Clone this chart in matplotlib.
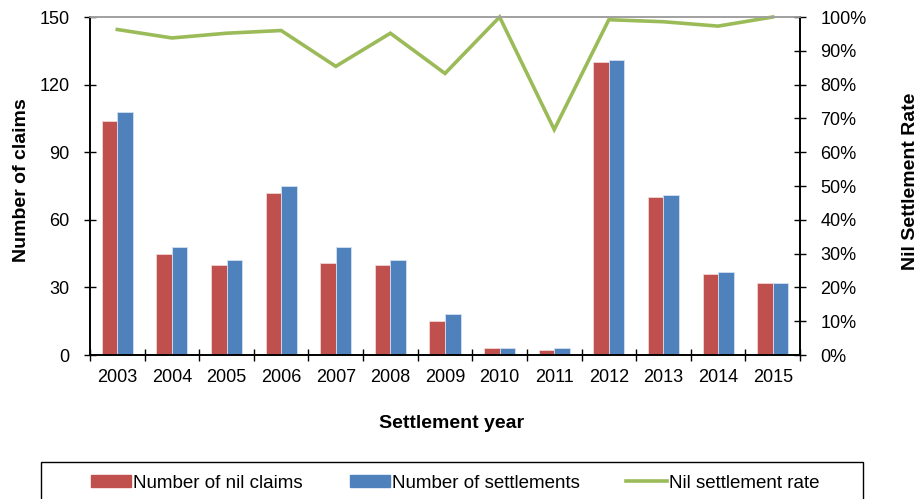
import matplotlib
matplotlib.use('Agg')
import matplotlib.pyplot as plt
import matplotlib.ticker as mticker
from matplotlib.patches import Rectangle
from matplotlib.lines import Line2D
import numpy as np

years = ['2003', '2004', '2005', '2006', '2007', '2008', '2009',
         '2010', '2011', '2012', '2013', '2014', '2015']
nil_claims = [104, 45, 40, 72, 41, 40, 15, 3, 2, 130, 70, 36, 32]
settlements = [108, 48, 42, 75, 48, 42, 18, 3, 3, 131, 71, 37, 32]
nil_rate = [96.3, 93.8, 95.2, 96.0, 85.4, 95.2, 83.3, 100.0, 66.7, 99.2, 98.6, 97.3, 100.0]

RED = '#C0504D'
BLUE = '#4F81BD'
GREEN = '#9BBB59'

plt.rcParams['font.family'] = ['Liberation Sans', 'DejaVu Sans']

fig = plt.figure(figsize=(9.22, 4.99), dpi=100)
ax = fig.add_axes([90 / 922, 1 - 355 / 499, 710 / 922, 338 / 499])
ax2 = ax.twinx()

x = np.arange(len(years))
w = 0.285
ax.bar(x - w / 2, nil_claims, w, color=RED, edgecolor='#f2d6d5', linewidth=0.6, zorder=2)
ax.bar(x + w / 2, settlements, w, color=BLUE, edgecolor='#d3e0f0', linewidth=0.6, zorder=2)
ax2.plot(x, nil_rate, color=GREEN, linewidth=2.6, solid_joinstyle='miter', clip_on=False)

ax.set_xlim(-0.5, len(years) - 0.5)
ax.set_ylim(0, 150)
ax.set_yticks(np.arange(0, 151, 30))
ax2.set_ylim(0, 100)
ax2.set_yticks(np.arange(0, 101, 10))
ax2.yaxis.set_major_formatter(mticker.FuncFormatter(lambda v, p: f'{v:.0f}%'))

ax.set_xticks(x)
ax.set_xticklabels(years)
ax.set_xticks(np.arange(-0.5, len(years), 1), minor=True)
ax.tick_params(axis='x', which='major', length=0, labelsize=13, pad=10)
ax.tick_params(axis='x', which='minor', length=9, width=1, direction='inout')
ax.tick_params(axis='y', length=9, width=1, direction='inout', labelsize=13, pad=10)
ax2.tick_params(axis='y', length=9, width=1, direction='inout', labelsize=13, pad=10)

for a in (ax, ax2):
    a.spines['top'].set_color('#a0a0a0')
    a.spines['top'].set_linewidth(1.2)
    for s in ('left', 'right', 'bottom'):
        a.spines[s].set_linewidth(1.2)

# axis titles placed where the reference has them
fig.text(22 / 922, 1 - 180 / 499, 'Number of claims', rotation=90, ha='center', va='center',
         fontsize=14, fontweight='bold')
fig.text(452 / 922, 1 - 423 / 499, 'Settlement year', ha='center', va='center',
         fontsize=14, fontweight='bold')
fig.text(910 / 922, 1 - 181 / 499, 'Nil Settlement Rate', rotation=90, ha='center', va='center',
         fontsize=14, fontweight='bold')

# legend box (runs off the bottom of the figure)
fig.patches.append(Rectangle((41 / 922, -0.05), 822 / 922, 0.05 + 37 / 499,
                             transform=fig.transFigure, fill=False,
                             edgecolor='black', linewidth=1))
handles = [
    Rectangle((0, 0), 1, 1, color=RED),
    Rectangle((0, 0), 1, 1, color=BLUE),
    Line2D([0], [0], color=GREEN, linewidth=2.6),
]
labels = ['Number of nil claims', 'Number of settlements', 'Nil settlement rate']
fig.legend(handles, labels, loc='center', bbox_to_anchor=(455 / 922, 1 - 483 / 499),
           ncol=3, frameon=False, fontsize=13.5, handlelength=2.15, handleheight=0.55,
           handletextpad=0.1, columnspacing=2.5)

fig.savefig('out.png', dpi=100)
